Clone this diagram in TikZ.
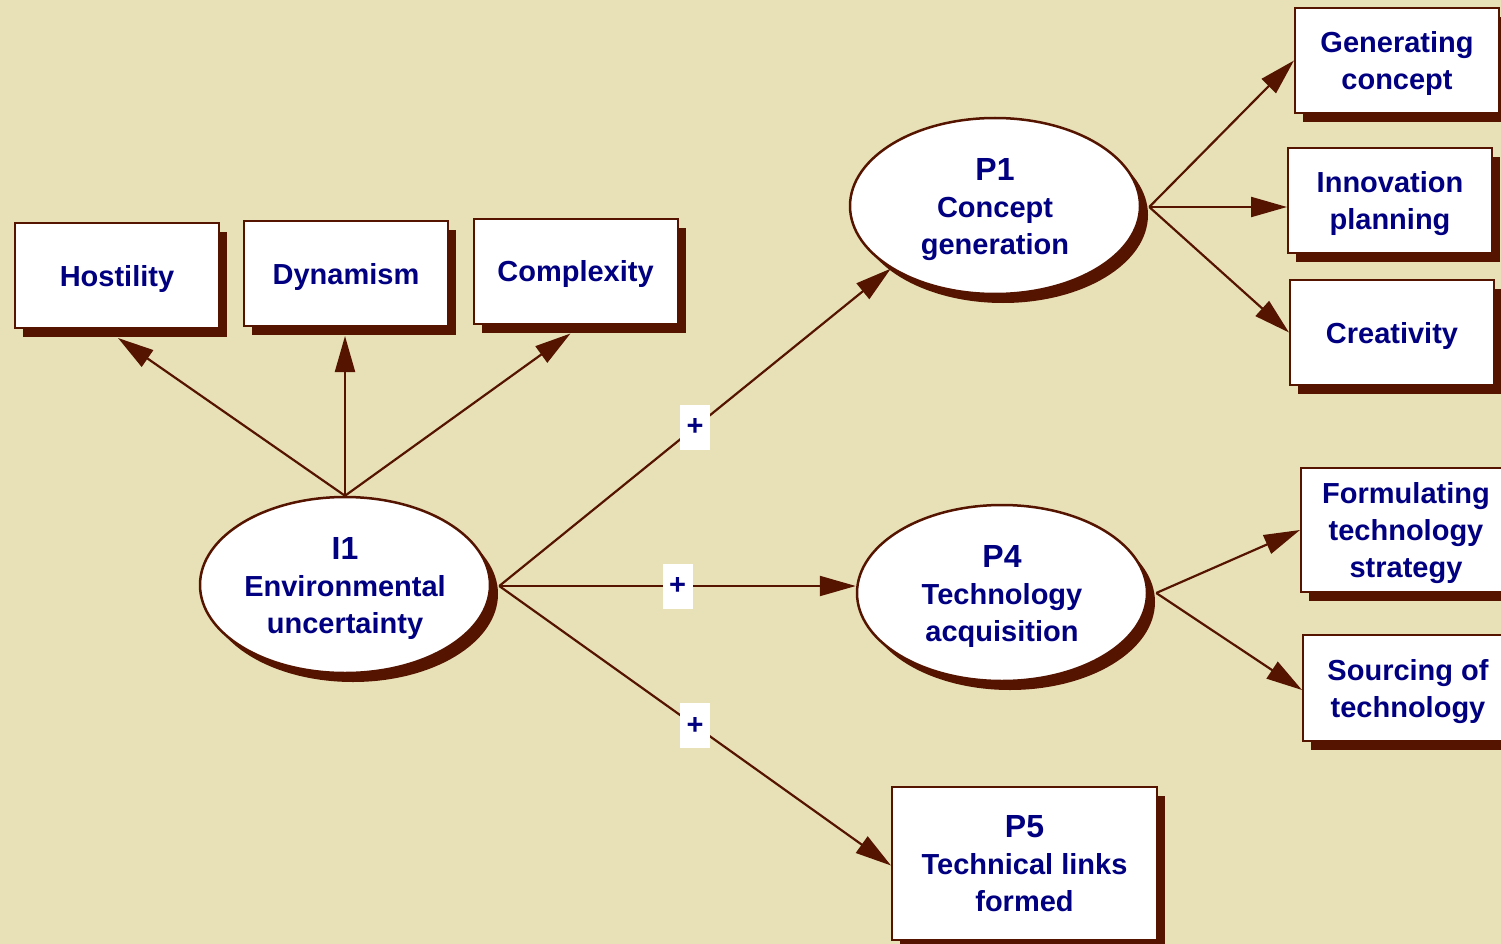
\documentclass[tikz,border=0pt]{standalone}
\usepackage{fontspec}
\setmainfont{Liberation Sans}
\usetikzlibrary{shapes.geometric,shadows,arrows.meta,calc}
\definecolor{paper}{RGB}{232,225,184}
\definecolor{rust}{RGB}{85,20,0}
\definecolor{navy}{RGB}{0,0,128}
\newcommand\headline[1]{{\fontsize{32}{37}\selectfont #1}}
\begin{document}
\begin{tikzpicture}[x=1pt,y=-1pt,
  every node/.style={font=\bfseries\fontsize{29}{37}\selectfont, text=navy, align=center, text depth=0pt},
  boxshadow/.style={drop shadow={shadow xshift=8pt,shadow yshift=-9pt,fill=rust,opacity=1}},
  itembox/.style={rectangle, draw=rust, line width=2pt, fill=white,
    minimum width=204pt, minimum height=105pt, inner sep=0pt, boxshadow},
  construct/.style={ellipse, draw=rust, line width=2.5pt, fill=white,
    minimum width=290pt, minimum height=176pt, inner sep=0pt, boxshadow},
  link/.style={draw=rust, line width=2.2pt, -{Triangle[length=36pt,width=20pt]}},
  sign/.style={fill=white, minimum width=30pt, minimum height=45pt, inner sep=0pt}]

% canvas
\clip (0,0) rectangle (1501,944);
\fill[paper] (0,0) rectangle (1501,944);
\useasboundingbox (0,0) rectangle (1501,944);

% constructs
\node[construct] (i1) at (345,585) {\headline{I1}\\Environmental\\uncertainty};
\node[construct] (p1) at (995,206) {\headline{P1}\\Concept\\generation};
\node[construct] (p4) at (1002,593) {\headline{P4}\\Technology\\acquisition};
\node[itembox, minimum width=265pt, minimum height=153pt] (p5) at (1024.5,863.5)
  {\headline{P5}\\Technical links\\formed};

% indicators
\node[itembox] (hostility) at (117,275.5) {Hostility};
\node[itembox] (dynamism) at (346,273.5) {Dynamism};
\node[itembox] (complexity) at (575.5,271) {Complexity};
\node[itembox] (gen) at (1397,60.5) {Generating\\concept};
\node[itembox] (innov) at (1390,200.5) {Innovation\\planning};
\node[itembox] (creat) at (1392,332.5) {Creativity};
\node[itembox, anchor=west, minimum width=210pt, minimum height=124pt] (formul) at (1300,530)
  {Formulating\\technology\\strategy};
\node[itembox, anchor=west, minimum width=210pt, minimum height=106pt] (sourcing) at (1302,688)
  {Sourcing of\\technology};

% connector start points on the shadowed right rims
\coordinate (i1out) at ($(i1.east)+(8,1)$);
\coordinate (p1out) at ($(p1.east)+(8,1)$);
\coordinate (p4out) at ($(p4.east)+(8,0)$);

% I1 to its indicators
\draw[link] (i1.north) -- ($(hostility.south)+(1,9)$);
\draw[link] (i1.north) -- ($(dynamism.south)+(-1,9)$);
\draw[link] (i1.north) -- ($(complexity.south)+(-5,9)$);

% I1 to the propositions
\draw[link] (i1out) -- node[sign] {+} (p1.211);
\draw[link] (i1out) -- node[sign] {+} (i1out -| p4.west);
\draw[link] (i1out) -- node[sign] {+} ($(p5.west)+(0,2)$);

% P1 to its indicators
\draw[link] (p1out) -- (gen.west);
\draw[link] (p1out) -- (p1out -| innov.west);
\draw[link] (p1out) -- (creat.west);

% P4 to its indicators
\draw[link] (p4out) -- (formul.west);
\draw[link] (p4out) -- ($(sourcing.west)+(0,2)$);
\end{tikzpicture}
\end{document}
